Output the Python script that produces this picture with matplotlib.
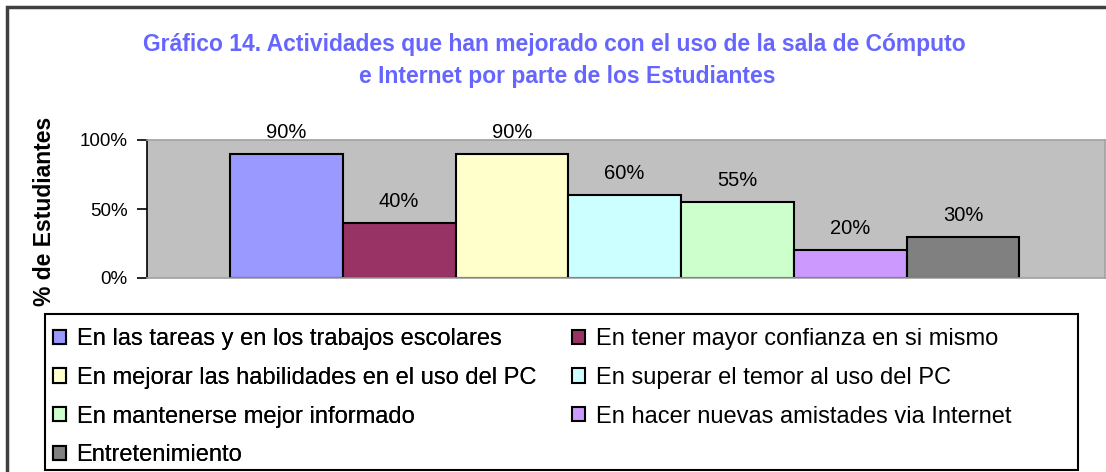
import matplotlib.pyplot as plt
from matplotlib.patches import Rectangle

# data
actividades = [
    "En las tareas y en los trabajos escolares",
    "En tener mayor confianza en si mismo",
    "En mejorar las habilidades en el uso del PC",
    "En superar el temor al uso del PC",
    "En mantenerse mejor informado",
    "En hacer nuevas amistades via Internet",
    "Entretenimiento",
]
porcentajes = [90, 40, 90, 60, 55, 20, 30]
colores = ["#9999FF", "#993366", "#FFFFCC", "#CCFFFF", "#CCFFCC", "#CC99FF", "#808080"]
yticks = [0, 50, 100]
ytick_labels = ["0%", "50%", "100%"]

plt.rcParams['font.family'] = ['Liberation Sans', 'DejaVu Sans']

W, H = 1106, 472
fig = plt.figure(figsize=(W/100, H/100), dpi=100)
ax = fig.add_axes([147/W, 1-278/H, (1105-147)/W, (278-140)/H])
ax.set_facecolor("#C0C0C0")

handles = []
for i, (lab, val, col) in enumerate(zip(actividades, porcentajes, colores)):
    b = ax.bar(i, val, width=1.0, color=col, edgecolor="black", linewidth=1.5, label=lab)
    handles.append(b)
    ax.annotate(f"{val}%", (i, val), xytext=(0, 16), textcoords="offset pixels",
                ha="center", va="baseline", fontsize=14.5, color="black",
                annotation_clip=False)

ax.set_xlim(-1.236, 7.26)
ax.set_ylim(0, 100)
ax.set_xticks([])
ax.set_yticks(yticks)
ax.set_yticklabels(ytick_labels, fontsize=13.5)
ax.tick_params(axis="y", direction="out", length=7, width=1.2, pad=7)
for s in ["top", "right", "bottom"]:
    ax.spines[s].set_color("#A0A0A0")
    ax.spines[s].set_linewidth(1.2)
ax.spines["left"].set_color("black")
ax.spines["left"].set_linewidth(1.2)

ax.set_ylabel("% de Estudiantes", fontsize=16.5, fontweight="bold")
ax.yaxis.set_label_coords(-0.095, 0.48)

fig.text(554/W, 1-45/H, "Gráfico 14. Actividades que han mejorado con el uso de la sala de Cómputo",
         ha="center", va="center", fontsize=16.5, fontweight="bold", color="#6666FF")
fig.text(567/W, 1-76/H, "e Internet por parte de los Estudiantes",
         ha="center", va="center", fontsize=16.5, fontweight="bold", color="#6666FF")

# legend box drawn by hand, two legends inside (one per column)
fig.patches.append(Rectangle((45/W, 1-470/H), (1078-45)/W, (470-314)/H,
                             transform=fig.transFigure, fill=False,
                             edgecolor="black", linewidth=1.5))

leg_kw = dict(loc="upper left", fontsize=17, frameon=False,
              handlelength=0.55, handleheight=0.55, handletextpad=0.45,
              labelspacing=0.71, borderpad=0, borderaxespad=0)
col1 = [0, 2, 4, 6]
col2 = [1, 3, 5]
leg1 = fig.legend([handles[k] for k in col1], [actividades[k] for k in col1],
                  bbox_to_anchor=(53/W, 1-328/H), **leg_kw)
fig.add_artist(leg1)
leg2 = fig.legend([handles[k] for k in col2], [actividades[k] for k in col2],
                  bbox_to_anchor=(572/W, 1-328/H), **leg_kw)

# outer chart frame
fig.patches.append(Rectangle((7/W, -0.1), 1.2, 1-7/H+0.1, transform=fig.transFigure,
                             fill=False, edgecolor="#404040", linewidth=2.5))

fig.savefig("out.png", dpi=100)
